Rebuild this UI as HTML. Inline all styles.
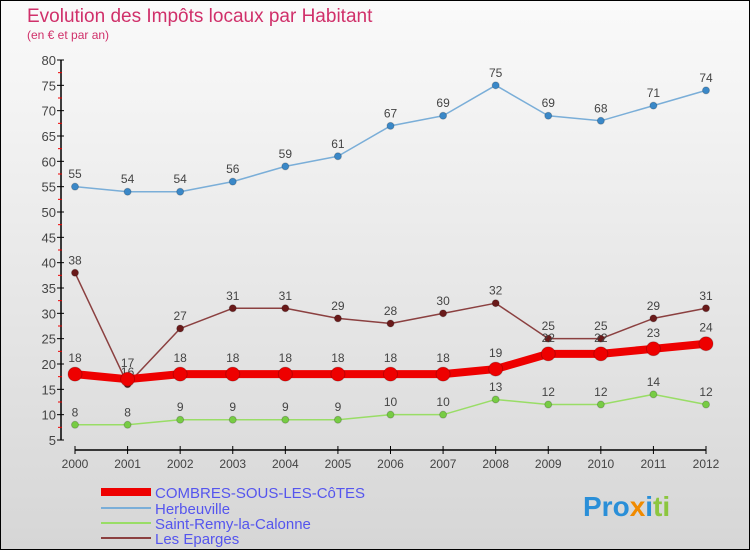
<!DOCTYPE html>
<html><head><meta charset="utf-8"><style>
body{margin:0;width:750px;height:550px;overflow:hidden;font-family:"Liberation Sans",sans-serif}
svg{display:block}
</style></head><body>
<svg width="750" height="550">
<defs><linearGradient id="bg" x1="0" y1="0" x2="0" y2="1"><stop offset="0" stop-color="#fafafa"/><stop offset="1" stop-color="#d6d6d6"/></linearGradient></defs>
<rect x="0.5" y="0.5" width="749" height="549" fill="url(#bg)" stroke="#000"/>
<text x="27" y="22" font-size="19" fill="#d0306a">Evolution des Impôts locaux par Habitant</text>
<text x="27" y="39" font-size="12" fill="#d0306a">(en € et par an)</text>
<g id="axes"></g><g id="series"></g>
<g font-size="15" fill="#5555ee">
<line x1="101" y1="492" x2="151" y2="492" stroke="#ee0000" stroke-width="8"/>
<text x="155" y="498">COMBRES-SOUS-LES-CôTES</text>
<line x1="101" y1="508" x2="151" y2="508" stroke="#7aaed8" stroke-width="2"/>
<text x="155" y="514">Herbeuville</text>
<line x1="101" y1="523" x2="151" y2="523" stroke="#99dd66" stroke-width="2"/>
<text x="155" y="529">Saint-Remy-la-Calonne</text>
<line x1="101" y1="538" x2="151" y2="538" stroke="#8b4040" stroke-width="2"/>
<text x="155" y="544">Les Eparges</text>
</g>
<text x="583" y="516" font-size="28" font-weight="bold"><tspan fill="#2a8fd8">Pro</tspan><tspan fill="#f08a00">x</tspan><tspan fill="#2a8fd8">i</tspan><tspan fill="#8cc63f">ti</tspan></text>
</svg>
<script>
const years=[2000,2001,2002,2003,2004,2005,2006,2007,2008,2009,2010,2011,2012];
const combres=[18,17,18,18,18,18,18,18,19,22,22,23,24];
const herbeuville=[55,54,54,56,59,61,67,69,75,69,68,71,74];
const saintRemy=[8,8,9,9,9,9,10,10,13,12,12,14,12];
const eparges=[38,16,27,31,31,29,28,30,32,25,25,29,31];
const yTicks=[5,10,15,20,25,30,35,40,45,50,55,60,65,70,75,80];
const NS="http://www.w3.org/2000/svg";
const X=i=>75+i*(706-75)/12;
const Y=v=>440-(v-5)*(380/75);
function mk(tag,at,parent,txt){const e=document.createElementNS(NS,tag);for(const k in at)e.setAttribute(k,at[k]);if(txt!==undefined)e.textContent=txt;parent.appendChild(e);return e;}
const ax=document.getElementById('axes');
let l=mk('line',{x1:61,y1:60,x2:61,y2:440,stroke:'#000','stroke-width':1.5},ax);


l=mk('line',{x1:75,y1:450,x2:706,y2:450,stroke:'#000','stroke-width':1.5},ax);


yTicks.forEach(v=>{
 mk('line',{x1:57,y1:Y(v),x2:64,y2:Y(v),stroke:'#000'},ax);
 if(v<80) mk('line',{x1:58,y1:Y(v+2.5),x2:62,y2:Y(v+2.5),stroke:'#e00'},ax);
 const t=mk('text',{x:56,y:Y(v)+5,'text-anchor':'end','font-size':13,fill:'#444'},ax,v);
 
 
});
years.forEach((yr,i)=>{
 mk('line',{x1:X(i),y1:446,x2:X(i),y2:454,stroke:'#000'},ax);
 const t=mk('text',{x:X(i),y:468,'text-anchor':'middle','font-size':12,fill:'#444'},ax,yr);
 
 
});
const sg=document.getElementById('series');
function series(name,data,color,w,r,dot){
 const g=mk('g',{},sg);
 
 
 const p=mk('polyline',{points:data.map((v,i)=>X(i)+','+Y(v)).join(' '),fill:'none',stroke:color,'stroke-width':w,'stroke-linejoin':'round'},g);
 
 
 data.forEach((v,i)=>{
  const c=mk('circle',{cx:X(i),cy:Y(v),r:r,fill:dot,stroke:'#0003'},g);
  
  
  const t=mk('text',{x:X(i),y:Y(v)-r-5,'text-anchor':'middle','font-size':12,fill:'#444'},g,v);
  
  
 });
}
series('herbeuville',herbeuville,'#7aaed8',1.5,3.5,'#3a88c8');
series('saint-remy',saintRemy,'#99dd66',1.5,3.5,'#77cc44');
series('eparges',eparges,'#8b4040',1.5,3.5,'#6a1a1a');
series('combres',combres,'#ee0000',8,7,'#ee0000');
</script>
</body></html>
